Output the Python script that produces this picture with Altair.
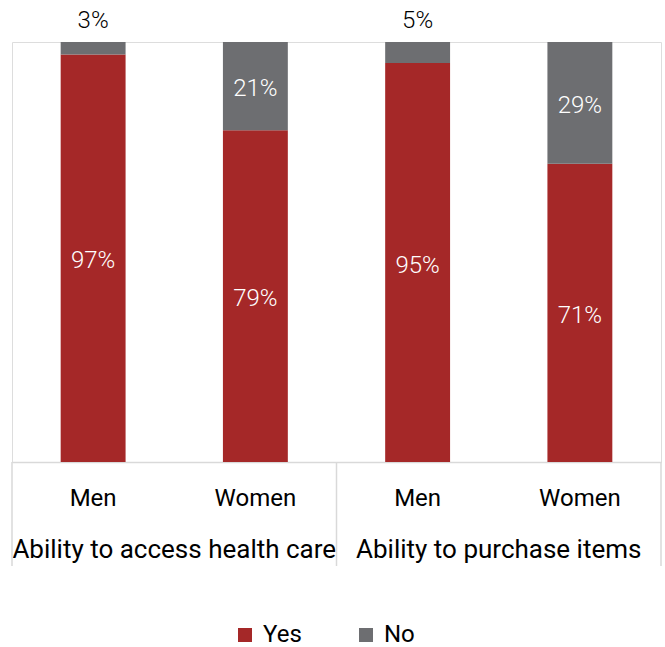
import altair as alt
import pandas as pd

groups = ["Ability to access health care", "Ability to access health care",
          "Ability to purchase items", "Ability to purchase items"]
genders = ["Men", "Women", "Men", "Women"]
yes_vals = [97, 79, 95, 71]
no_vals = [3, 21, 5, 29]
answers = ["Yes", "No"]
colors = ["#A52828", "#6D6E71"]
group_names = ["Ability to access health care", "Ability to purchase items"]
boundaries = [0, 1, 2]

rows = []
for g, s, y, n in zip(groups, genders, yes_vals, no_vals):
    key = g + "|" + s
    rows.append({"key": key, "group": g, "gender": s, "answer": "Yes", "value": y, "ord": 0})
    rows.append({"key": key, "group": g, "gender": s, "answer": "No", "value": n, "ord": 1})
df = pd.DataFrame(rows)
keys = [g + "|" + s for g, s in zip(groups, genders)]

FONT = "Roboto"
xscale = alt.Scale(paddingInner=0.6, paddingOuter=0.3)
yscale = alt.Scale(domain=[0, 100], nice=False)

x_axis = alt.Axis(title=None, labelExpr="split(datum.value, '|')[1]",
                  labelAngle=0, ticks=False, tickSize=0,
                  domainColor="#d9d9d9", domainWidth=1.5,
                  labelFontSize=24, labelFont=FONT, labelColor="#000000",
                  labelPadding=36, labelBaseline="middle", grid=False)


def xenc():
    return alt.X("key:N", sort=keys, scale=xscale, axis=x_axis)


bars = alt.Chart(df).mark_bar().encode(
    x=xenc(),
    y=alt.Y("value:Q", stack="zero", scale=yscale, axis=None),
    color=alt.Color("answer:N", scale=alt.Scale(domain=answers, range=colors),
                    legend=alt.Legend(title=None, orient="none", legendX=221, legendY=581,
                                      direction="horizontal", symbolType="square",
                                      symbolSize=196, symbolStrokeWidth=0,
                                      labelFontSize=24, labelFont=FONT, labelColor="#000000",
                                      columnPadding=52, labelOffset=6, padding=0)),
    order=alt.Order("ord:Q", sort="ascending"),
)

stacked = alt.Chart(df).transform_stack(
    stack="value", groupby=["key"], as_=["v0", "v1"],
    sort=[alt.SortField("ord", order="ascending")]
).transform_calculate(
    mid="(datum.v0 + datum.v1) / 2", lab="datum.value + '%'"
)

inside = stacked.transform_filter("datum.value >= 10").mark_text(
    color="white", fontSize=24, font=FONT, fontWeight=300, baseline="middle", dy=3
).encode(
    x=xenc(),
    y=alt.Y("mid:Q", scale=yscale, axis=None),
    text="lab:N",
)

outside = stacked.transform_filter("datum.value < 10").mark_text(
    color="black", fontSize=24, font=FONT, fontWeight=300, baseline="middle", dy=-21
).encode(
    x=xenc(),
    y=alt.Y("v1:Q", scale=yscale, axis=None),
    text="lab:N",
)

inner = alt.layer(bars, inside, outside)

grp = alt.Chart(pd.DataFrame({"group": group_names})).mark_text(
    fontSize=26, font=FONT, color="black", baseline="middle"
).encode(
    x=alt.X("group:N", sort=group_names, scale=alt.Scale(paddingInner=0, paddingOuter=0), axis=None),
    y=alt.value(508),
    text="group:N",
)

rules = alt.Chart(pd.DataFrame({"b": boundaries})).mark_rule(
    color="#d9d9d9", strokeWidth=1.5
).encode(
    x=alt.X("b:Q", scale=alt.Scale(domain=[0, 2], nice=False, zero=False), axis=None),
    y=alt.value(420),
    y2=alt.value(524),
)

chart = alt.layer(inner, grp, rules).resolve_scale(x="independent").properties(
    width=649, height=420, autosize="none",
    padding={"left": 12, "top": 42, "right": 4, "bottom": 185},
).configure_view(stroke=None).configure(font=FONT)

chart.save("out.html", embed_options={"renderer": "svg", "actions": False})
